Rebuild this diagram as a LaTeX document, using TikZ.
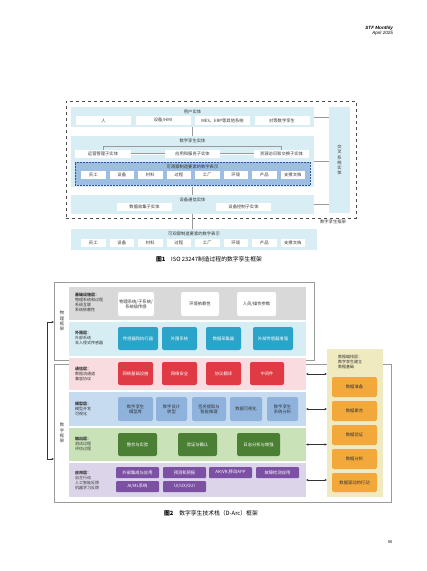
\documentclass[tikz,border=0pt]{standalone}
\usepackage{fontspec}
\setmainfont{Noto Sans CJK SC}
\newfontfamily\arialf{Liberation Sans}
\usetikzlibrary{arrows.meta}
\definecolor{fbg}{HTML}{D8EDF4}
\definecolor{finner}{HTML}{9DBDE3}
\definecolor{finnerb}{HTML}{2F5597}
\definecolor{lgray}{HTML}{D9D9D9}
\definecolor{lblue}{HTML}{D5EDF3}
\definecolor{teal}{HTML}{2AA5C9}
\definecolor{lpink}{HTML}{F9DCDF}
\definecolor{bred}{HTML}{E03A45}
\definecolor{lmodel}{HTML}{C6DAF0}
\definecolor{bmodel}{HTML}{8EB2DC}
\definecolor{lgreen}{HTML}{C9E2B8}
\definecolor{dgreen}{HTML}{4B8034}
\definecolor{lpurple}{HTML}{DCD5EA}
\definecolor{bpurple}{HTML}{7C50A2}
\definecolor{lyellow}{HTML}{EFEABF}
\definecolor{borange}{HTML}{F3A83C}
\definecolor{frame}{HTML}{9A9A9A}
\definecolor{txt}{HTML}{333333}
\newcommand\mybox[7]{\node[#2,minimum width={(#5)-(#3)},minimum height={(#6)-(#4)}] (#1) at ({((#3)+(#5))/2},{((#4)+(#6))/2}) {#7};}
\tikzset{
  every node/.style={inner sep=0pt,outer sep=0pt,text=txt},
  sm/.style={font=\fontsize{4.3}{5.2}\selectfont,align=center},
  lab/.style={font=\fontsize{4}{5}\selectfont,align=left,anchor=west},
  fbox/.style={fill=fbg},
  fitem/.style={sm,fill=white},
  fline/.style={draw=frame,line width=0.8pt},
  cbox/.style={sm,rounded corners=2pt,text=white},
  conn/.style={draw=frame,line width=0.6pt},
  darr/.style={line width=0.5pt,draw=black!80,{Stealth[length=2.5pt,width=2.2pt]}-{Stealth[length=2.5pt,width=2.2pt]}},
  captxt/.style={font=\fontsize{5.8}{7}\selectfont,text=black},
}
\begin{document}
\begin{tikzpicture}[x=1pt,y=-1pt]
\fill[white] (0,0) rectangle (427,571);
\useasboundingbox (0,0) rectangle (427,571);
% header
\node[anchor=east,font=\arialf\bfseries\itshape\fontsize{4.6}{5}\selectfont,text=black] (hd1) at (393,28) {STF Monthly};
\node[anchor=east,font=\arialf\itshape\fontsize{4.6}{5}\selectfont,text=black] (hd2) at (393,33.5) {April 2025};

% ================= Figure 1 =================
\mybox{outer}{draw=black!70,dashed,line width=0.5pt}{66}{101}{356}{218}{}
\node[sm,anchor=north] (outerlab) at (333,220) {数字孪生框架};
\mybox{cross}{fbox}{329}{107}{350}{213}{}
\node[sm] (crosst) at (cross.center) {交\\叉\\系\\统\\实\\体};

\mybox{user}{fbox}{71}{107}{314}{127}{}
\node[sm] (usert) at (192.5,112) {用户实体};
\mybox{u1}{fitem}{76}{116}{131}{125}{人}
\mybox{u2}{fitem}{135.5}{116}{190.5}{125}{设备/HMI}
\mybox{u3}{fitem}{195}{116}{250}{125}{MES、ERP等其他系统}
\mybox{u4}{fitem}{254.5}{116}{309.5}{125}{对等数字孪生}

\mybox{dt}{fbox}{71}{136}{314}{187}{}
\node[sm] (dtt) at (192.5,140.5) {数字孪生实体};
\mybox{s1}{fitem}{75}{150}{131}{158}{运营管理子实体}
\mybox{s2}{fitem}{165}{150}{220}{158}{应用和服务子实体}
\mybox{s3}{fitem}{254}{150}{309}{158}{资源访问和交换子实体}
\draw[conn,line width=0.5pt] (s1.north) -- ++(0,-4) -| (s3.north);
\draw[frame,double,double distance=0.8pt,line width=0.4pt] (s1.east) -- (s2.west);
\draw[frame,double,double distance=0.8pt,line width=0.4pt] (s2.east) -- (s3.west);
\mybox{inner}{fill=finner,draw=finnerb,densely dotted,line width=0.5pt}{75}{162}{310}{185}{}
\node[sm] (innert) at (192.5,166.5) {可观察制造要素的数字表示};
\foreach \n/\t [count=\i from 0] in {a/员工,b/设备,c/材料,d/过程,e/工厂,f/环境,g/产品,h/支撑文档}{
  \mybox{i\n}{fitem}{81+28.5*\i}{171}{105.5+28.5*\i}{179}{\t}
}

\mybox{comm}{fbox}{71}{195}{314}{214}{}
\node[sm] (commt) at (192.5,199.5) {设备通信实体};
\mybox{c1}{fitem}{117}{203}{172}{211}{数据收集子实体}
\mybox{c2}{fitem}{216}{203}{271}{211}{设备控制子实体}

\mybox{bot}{fbox}{71}{229}{317}{250}{}
\node[sm] (bott) at (194,234) {可观察制造要素的数字表示};
\foreach \n/\t [count=\i from 0] in {a/员工,b/设备,c/材料,d/过程,e/工厂,f/环境,g/产品,h/支撑文档}{
  \mybox{b\n}{fitem}{81+28.5*\i}{239}{105.5+28.5*\i}{247}{\t}
}

\draw[fline] (user.south) -- (dt.north);
\draw[fline] (dt.south) -- (comm.north);
\draw[fline] (comm.south) -- (bot.north -| comm.south);
\draw[fline] (user.east) -- (user.east -| cross.west);
\draw[fline] (dt.east) -- (dt.east -| cross.west);
\draw[fline] (comm.east) -- (comm.east -| cross.west);

\node[captxt] (cap1) at (209,259.5) {\textbf{图1}\quad ISO 23247制造过程的数字孪生框架};

% ================= Figure 2 =================
\mybox{phys}{draw=frame,line width=0.6pt}{54}{282}{314}{360}{}
\mybox{dig}{draw=frame,line width=0.6pt}{54}{364}{391}{502}{}
\node[sm] (physl) at (62,321) {物\\理\\框\\架};
\node[sm] (digl) at (62,433) {数\\字\\框\\架};
\coordinate (lc1) at (47,322);
\coordinate (lc2) at (47,459);
\draw[darr] (phys.west |- lc1) -- (lc1) -- (lc2) -- (dig.west |- lc2);

\mybox{L1}{fill=lgray}{69}{287}{306}{320}{}
\mybox{L2}{fill=lblue}{69}{322}{306}{356}{}
\mybox{L3}{fill=lpink}{69}{358}{306}{390}{}
\mybox{L4}{fill=lmodel}{69}{392}{306}{426}{}
\mybox{L5}{fill=lgreen}{69}{428}{306}{461}{}
\mybox{L6}{fill=lpurple}{69}{463}{306}{497}{}

\node[lab] (L1t) at (75,302) {\textbf{基础设施层：}\\物理系统和过程\\系统互联\\系统依赖性};
\node[lab] (L2t) at (75,338) {\textbf{外围层：}\\外部系统\\非入侵式传感器};
\node[lab] (L3t) at (75,373.5) {\textbf{通信层：}\\数据流通道\\兼容协议};
\node[lab] (L4t) at (75,408.5) {\textbf{模型层：}\\模型开发\\可视化};
\node[lab] (L5t) at (75,444) {\textbf{输出层：}\\测试过程\\评估过程};
\node[lab] (L6t) at (75,480) {\textbf{应用层：}\\自主行动\\人工智能反馈\\机器学习反馈};

% gray layer
\mybox{g1}{sm,fill=white,rounded corners=2pt}{118}{292}{154}{316}{物理系统/子系统/\\系统级传感}
\mybox{g2}{sm,fill=white,rounded corners=2pt}{181}{292}{219}{316}{环境依赖性}
\mybox{g3}{sm,fill=white,rounded corners=2pt}{237}{292}{276}{316}{人员/操作参数}
% peripheral
\mybox{p1}{cbox,fill=teal}{118}{327}{158}{350}{传感器和执行器}
\mybox{p2}{cbox,fill=teal}{162}{327}{197}{350}{外围系统}
\mybox{p3}{cbox,fill=teal}{206}{327}{241}{350}{数据采集器}
\mybox{p4}{cbox,fill=teal}{253}{327}{293}{350}{外部传感器增强}
% communication
\mybox{r1}{cbox,fill=bred}{118}{362}{153}{385}{网络基础设施}
\mybox{r2}{cbox,fill=bred}{162}{362}{197}{385}{网络安全}
\mybox{r3}{cbox,fill=bred}{206}{362}{241}{385}{协议翻译}
\mybox{r4}{cbox,fill=bred}{250}{362}{284}{385}{中间件}
% model
\mybox{m1}{cbox,fill=bmodel,text=txt}{118}{397}{153}{421}{数字孪生\\模型库}
\mybox{m2}{cbox,fill=bmodel,text=txt}{156}{397}{187}{421}{数字设计\\转型}
\mybox{m3}{cbox,fill=bmodel,text=txt}{192}{397}{226}{421}{签名提取与\\智能推理}
\mybox{m4}{cbox,fill=bmodel,text=txt}{230}{397}{262}{421}{数据可视化}
\mybox{m5}{cbox,fill=bmodel,text=txt}{267}{397}{298}{421}{数字孪生\\系统分析}
% output
\mybox{o1}{cbox,fill=dgreen}{118}{433}{157}{456}{整合与实验}
\mybox{o2}{cbox,fill=dgreen}{178}{433}{217}{456}{验证与确认}
\mybox{o3}{cbox,fill=dgreen}{237}{433}{280}{456}{日志分析与增强}
% application
\mybox{a1}{cbox,fill=bpurple,rounded corners=1pt}{116}{467}{159}{478}{外部集成与应用}
\mybox{a2}{cbox,fill=bpurple,rounded corners=1pt}{163}{467}{206}{478}{预测和预报}
\mybox{a3}{cbox,fill=bpurple,rounded corners=1pt}{209}{467}{252}{478}{AR/VR,移动APP}
\mybox{a4}{cbox,fill=bpurple,rounded corners=1pt}{256}{467}{299}{478}{故障检测应用}
\mybox{a5}{cbox,fill=bpurple,rounded corners=1pt}{116}{481}{159}{492}{AI/ML系统}
\mybox{a6}{cbox,fill=bpurple,rounded corners=1pt}{163}{481}{206}{492}{UI/UX/GUI}

% orchestration
\mybox{Y}{fill=lyellow}{327}{349}{383}{497}{}
\node[lab] (Yt) at (338,362) {数据编排层：\\数字孪生建立\\数据基础};
\mybox{y1}{cbox,fill=borange,text=txt}{332}{377}{377}{397}{数据准备}
\mybox{y2}{cbox,fill=borange,text=txt}{332}{401}{377}{421}{数据聚合}
\mybox{y3}{cbox,fill=borange,text=txt}{332}{425}{377}{445}{数据验证}
\mybox{y4}{cbox,fill=borange,text=txt}{332}{449}{377}{469}{数据分析}
\mybox{y5}{cbox,fill=borange,text=txt}{332}{473}{377}{492}{数据驱动的行动}

\draw[darr] (L3.east) -- (L3.east -| Y.west);
\draw[darr] (L4.east) -- (L4.east -| Y.west);
\draw[darr] (L5.east) -- (L5.east -| Y.west);
\draw[darr] (L6.east) -- (L6.east -| Y.west);

\node[captxt] (cap2) at (211,513) {\textbf{图2}\quad 数字孪生技术栈（D-Arc）框架};
\node[font=\fontsize{4}{5}\selectfont,text=black] (pg) at (390,542) {06};
\end{tikzpicture}
\end{document}
